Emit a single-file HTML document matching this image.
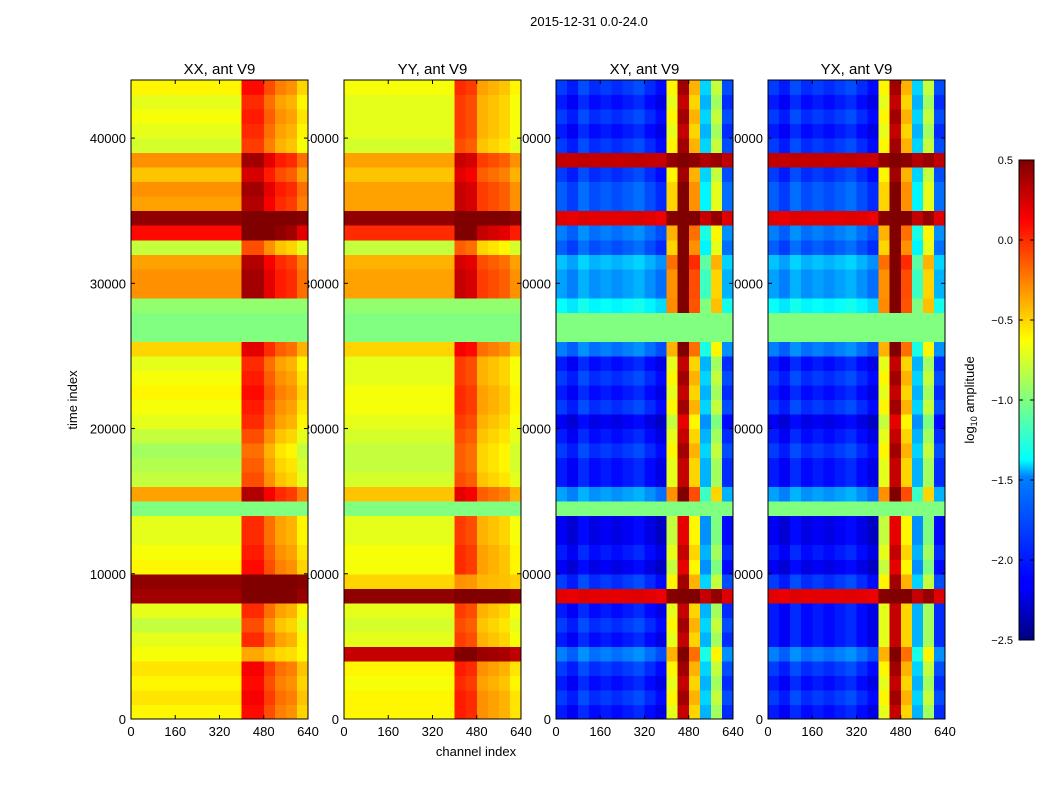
<!DOCTYPE html>
<html><head><meta charset="utf-8"><style>
body{margin:0;background:#fff;font-family:"Liberation Sans",sans-serif}
svg text{font-family:"Liberation Sans",sans-serif}
</style></head><body>
<svg id="fig" width="1050" height="800" xmlns="http://www.w3.org/2000/svg">
<rect width="1050" height="800" fill="#fff"/>
<text x="589" y="26" font-size="13" text-anchor="middle">2015-12-31 0.0-24.0</text>
<g id="labels"></g>
<g id="images"></g>
<g id="frames"></g>
<text x="476" y="756" font-size="13" text-anchor="middle">channel index</text>
<text transform="translate(77,400) rotate(-90)" font-size="13" text-anchor="middle">time index</text>
<defs><linearGradient id="cbg" x1="0" y1="1" x2="0" y2="0">
<stop offset="0" stop-color="#00007f"/><stop offset="0.11" stop-color="#0000ff"/><stop offset="0.125" stop-color="#0000ff"/>
<stop offset="0.34" stop-color="#0080ff"/><stop offset="0.375" stop-color="#00ffff"/><stop offset="0.5" stop-color="#80ff80"/>
<stop offset="0.625" stop-color="#ffff00"/><stop offset="0.75" stop-color="#ff8000"/><stop offset="0.875" stop-color="#ff0000"/><stop offset="1" stop-color="#7f0000"/></linearGradient></defs>
<rect x="1019" y="160" width="15" height="480" fill="url(#cbg)" stroke="#000"/>
<g id="cbticks"></g>
<text transform="translate(974,400) rotate(-90)" font-size="13" text-anchor="middle">log<tspan font-size="9" dy="3">10</tspan><tspan dy="-3"> amplitude</tspan></text>
</svg>
<script>
const panelTitles=["XX, ant V9","YY, ant V9","XY, ant V9","YX, ant V9"];
const yTicks=[0,10000,20000,30000,40000];
const xTicks=[0,160,320,480,640];
const cbTicks=[0.5,0.0,-0.5,-1.0,-1.5,-2.0,-2.5];
const xxBase=[-0.6,-0.55,-0.6,-0.55,-0.65,-0.7,-0.8,-0.7,0.4,0.45,-0.6,-0.65,-0.7,-0.7,-1.0,-0.35,-0.8,-0.85,-0.9,-0.8,-0.7,-0.65,-0.6,-0.65,-0.7,-0.5,-1.0,-1.0,-0.95,-0.3,-0.3,-0.35,-0.8,0.1,0.45,-0.35,-0.3,-0.45,-0.3,-0.75,-0.7,-0.65,-0.7,-0.6];
const yyBase=[-0.6,-0.6,-0.65,-0.6,0.3,-0.7,-0.75,-0.7,0.45,-0.5,-0.65,-0.65,-0.7,-0.7,-1.0,-0.45,-0.75,-0.8,-0.8,-0.75,-0.7,-0.65,-0.65,-0.7,-0.7,-0.5,-1.0,-1.0,-0.95,-0.35,-0.35,-0.4,-0.8,0.0,0.45,-0.35,-0.35,-0.45,-0.35,-0.75,-0.7,-0.7,-0.7,-0.65];
const xyBase=[-2.1,-2.0,-2.1,-2.0,-1.8,-2.1,-2.0,-2.1,0.2,-2.0,-2.2,-2.1,-2.2,-2.2,-1.0,-1.7,-2.1,-2.1,-2.0,-2.1,-2.2,-2.0,-2.1,-2.0,-2.1,-1.8,-1.0,-1.0,-1.4,-1.7,-1.7,-1.6,-1.9,-1.8,0.2,-1.9,-1.9,-2.0,0.3,-2.0,-2.1,-2.0,-2.1,-2.0];
const yxBase=[-2.1,-2.0,-2.1,-2.0,-1.8,-2.1,-2.1,-2.1,0.2,-2.0,-2.2,-2.1,-2.2,-2.2,-1.0,-1.7,-2.1,-2.1,-2.0,-2.1,-2.2,-2.0,-2.1,-2.0,-2.1,-1.8,-1.0,-1.0,-1.4,-1.7,-1.7,-1.6,-1.9,-1.8,0.2,-1.9,-1.9,-2.0,0.3,-2.0,-2.1,-2.0,-2.1,-2.0];
const parStruct=[1,1,1,1,0.4,1,1,1,0.3,0.3,1,1,1,1,0,1,1,1,1,1,1,1,1,1,1,1,0,0,0,1,1,1,1,1,0.3,1,1,1,1,1,1,1,1,1];
const crossStruct=[1,1,1,1,1,1,1,1,0.2,1,1,1,1,1,0,1,1,1,1,1,1,1,1,1,1,1,0,0,0.8,1,1,1,1,1,0.2,1,1,1,0.1,1,1,1,1,1];
const xxCol=[0,0,0,0,0,0,0,0,0,0,0.7,0.7,0.5,0.35,0.3,0.1];
const yyCol=[0,0,0,0,0,0,0,0,0,0,0.65,0.6,0.3,0.25,0.2,0.05];
const xyCol=[0.05,-0.05,0.1,0.0,0.05,0,0.05,0.1,0,-0.1,1.4,2.4,1.6,0.5,1.2,0.1];
const yxCol=[0.05,-0.05,0.1,0.0,0.05,0,0.05,0.1,0,-0.1,1.4,2.4,1.6,0.5,1.2,0.1];
const panels=[[xxBase,parStruct,xxCol],[yyBase,parStruct,yyCol],[xyBase,crossStruct,xyCol],[yxBase,crossStruct,yxCol]];
const px0=[131,344,556,768],pw=177,yTop=80,yBot=719,tmax=44000,cmax=640;
const NS="http://www.w3.org/2000/svg";
function el(t,a,p){const e=document.createElementNS(NS,t);for(const k in a)e.setAttribute(k,a[k]);p.appendChild(e);return e;}
function yS(v){return yBot-(v/tmax)*(yBot-yTop);}
function xS(i,v){return px0[i]+(v/cmax)*pw;}
function jet(v){let t=(v+2.5)/3;t=Math.max(0,Math.min(1,t));
 const f=x=>Math.round(255*Math.max(0,Math.min(1,x)));
 return `rgb(${f(1.5-Math.abs(4*t-3))},${f(1.5-Math.abs(4*t-2))},${f(1.5-Math.abs(4*t-1))})`;}
const L=document.getElementById('labels'),I=document.getElementById('images'),F=document.getElementById('frames');
panels.forEach((p,i)=>{
 const [base,st,col]=p;
 yTicks.forEach(v=>{const t=el('text',{x:px0[i]-5,y:yS(v)+5,'font-size':13,'text-anchor':'end'},L);t.textContent=v;
  
  });
 const g=el('g',{'shape-rendering':'crispEdges'},I);
 
 
 const rh=tmax/base.length,cw=cmax/col.length;
 base.forEach((b,r)=>{col.forEach((c,k)=>{
  const y1=yS((r+1)*rh),y0=yS(r*rh);
  const x0=xS(i,k*cw),x1=xS(i,(k+1)*cw);
  const cell=el('rect',{x:x0,y:y1,width:x1-x0+0.5,height:y0-y1+0.5,fill:jet(b+c*st[r])},g);
  
  
 });});
 const fr=el('rect',{x:px0[i],y:yTop,width:pw,height:yBot-yTop,fill:'none',stroke:'#000'},F);
 
 
 const tt=el('text',{x:px0[i]+pw/2,y:74,'font-size':15,'text-anchor':'middle'},F);tt.textContent=panelTitles[i];
 
 
 xTicks.forEach(v=>{const x=xS(i,v);
  el('line',{x1:x,x2:x,y1:yBot,y2:yBot-4,stroke:'#000'},F);el('line',{x1:x,x2:x,y1:yTop,y2:yTop+4,stroke:'#000'},F);
  const t=el('text',{x:x,y:yBot+17,'font-size':13,'text-anchor':'middle'},F);t.textContent=v;
  
  });
 yTicks.forEach(v=>{const y=yS(v);el('line',{x1:px0[i],x2:px0[i]+4,y1:y,y2:y,stroke:'#000'},F);el('line',{x1:px0[i]+pw,x2:px0[i]+pw-4,y1:y,y2:y,stroke:'#000'},F);});
});
const C=document.getElementById('cbticks');
cbTicks.forEach(v=>{const y=640-(v+2.5)/3*480;
 el('line',{x1:1019,x2:1023,y1:y,y2:y,stroke:'#000'},C);el('line',{x1:1030,x2:1034,y1:y,y2:y,stroke:'#000'},C);
 const t=el('text',{x:1013,y:y+4,'font-size':11,'text-anchor':'end'},C);t.textContent=v.toFixed(1).replace('-','−');
 
 });
</script>
</body></html>
